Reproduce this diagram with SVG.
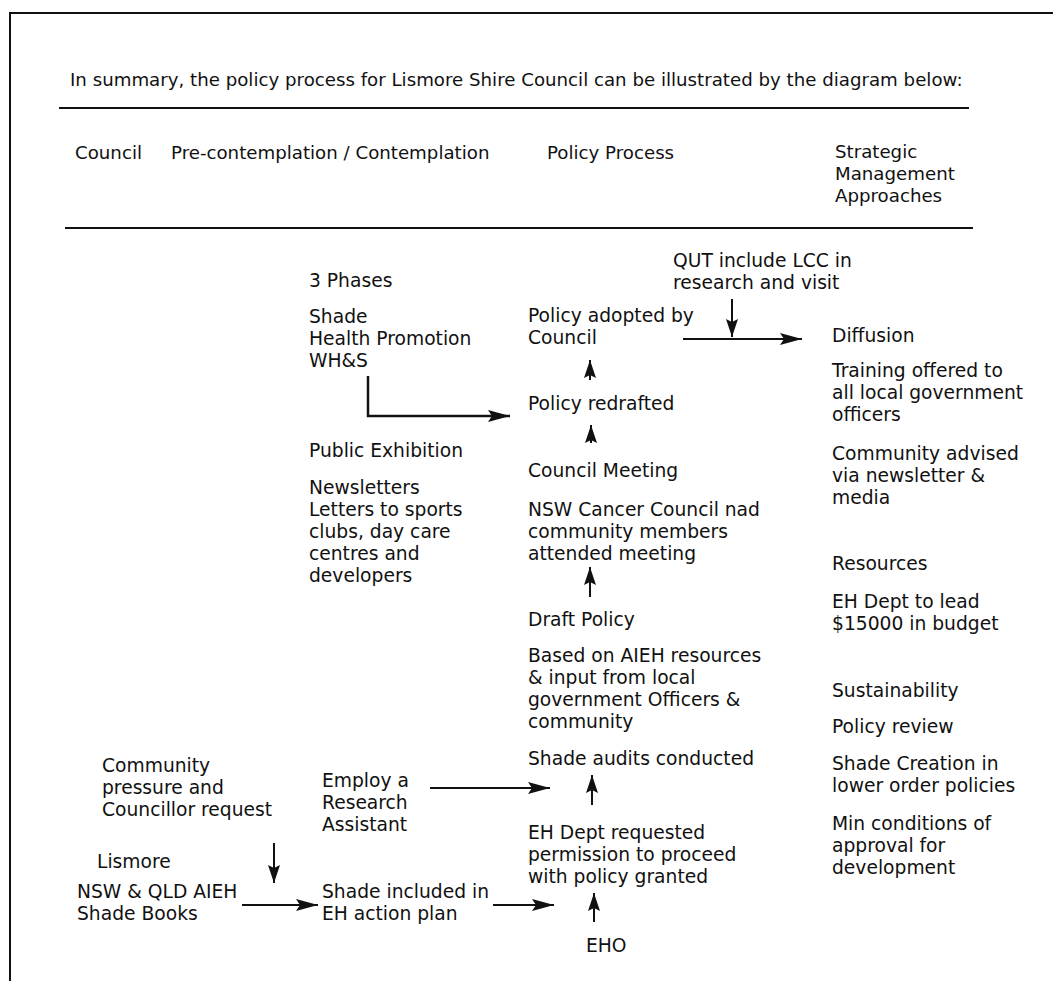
<svg xmlns="http://www.w3.org/2000/svg" width="1053" height="981" viewBox="0 0 1053 981">
<style>
text{font-family:"DejaVu Sans","Verdana",sans-serif;font-size:18.7px;fill:#111}
.h{font-size:18.2px}
.rule{stroke:#111;stroke-width:2;fill:none}
.c{stroke:#111;stroke-width:2;fill:none}
.e{stroke:#111;stroke-width:2.5;fill:none}
</style>
<defs>
<marker id="ah" viewBox="0 0 22 12" refX="22" refY="6" markerWidth="22" markerHeight="12" markerUnits="userSpaceOnUse" orient="auto">
<path d="M0,0 L22,6 L0,12 L4,6 z" fill="#111"/>
</marker>
<marker id="as" viewBox="0 0 18 12" refX="18" refY="6" markerWidth="18" markerHeight="12" markerUnits="userSpaceOnUse" orient="auto">
<path d="M0,0 L18,6 L0,12 L3,6 z" fill="#111"/>
</marker>
</defs>
<rect width="1053" height="981" fill="#fff"/>
<path class="rule" d="M10,990 V13 H1060"/>
<g id="header">
<text class="h" x="70" y="86">In summary, the policy process for Lismore Shire Council can be illustrated by the diagram below:</text>
<line class="rule" x1="59" y1="108" x2="969" y2="108"/>
<text class="h" x="75" y="159">Council</text>
<text class="h" x="171" y="159">Pre-contemplation / Contemplation</text>
<text class="h" x="547" y="159">Policy Process</text>
<text class="h" x="835" y="158">Strategic</text>
<text class="h" x="835" y="180">Management</text>
<text class="h" x="835" y="202">Approaches</text>
<line class="rule" x1="65" y1="228" x2="973" y2="228"/>
</g>
<g id="phases">
<text x="309" y="287">3 Phases</text>
<text x="309" y="323">Shade</text>
<text x="309" y="345">Health Promotion</text>
<text x="309" y="367">WH&amp;S</text>
</g>
<g id="public-exhibition">
<text x="309" y="457">Public Exhibition</text>
<text x="309" y="494">Newsletters</text>
<text x="309" y="516">Letters to sports</text>
<text x="309" y="538">clubs, day care</text>
<text x="309" y="560">centres and</text>
<text x="309" y="582">developers</text>
</g>
<g id="policy-adopted">
<text x="528" y="322">Policy adopted by</text>
<text x="528" y="344">Council</text>
</g>
<g id="policy-redrafted"><text x="528" y="410">Policy redrafted</text></g>
<g id="council-meeting">
<text x="528" y="477">Council Meeting</text>
<text x="528" y="516">NSW Cancer Council nad</text>
<text x="528" y="538">community members</text>
<text x="528" y="560">attended meeting</text>
</g>
<g id="draft-policy">
<text x="528" y="626">Draft Policy</text>
<text x="528" y="662">Based on AIEH resources</text>
<text x="528" y="684">&amp; input from local</text>
<text x="528" y="706">government Officers &amp;</text>
<text x="528" y="728">community</text>
</g>
<g id="shade-audits"><text x="528" y="765">Shade audits conducted</text></g>
<g id="eh-dept">
<text x="528" y="839">EH Dept requested</text>
<text x="528" y="861">permission to proceed</text>
<text x="528" y="883">with policy granted</text>
</g>
<g id="eho"><text x="586" y="952">EHO</text></g>
<g id="community-pressure">
<text x="102" y="772">Community</text>
<text x="102" y="794">pressure and</text>
<text x="102" y="816">Councillor request</text>
</g>
<g id="employ">
<text x="322" y="787">Employ a</text>
<text x="322" y="809">Research</text>
<text x="322" y="831">Assistant</text>
</g>
<g id="lismore">
<text x="97" y="868">Lismore</text>
<text x="77" y="898">NSW &amp; QLD AIEH</text>
<text x="77" y="920">Shade Books</text>
</g>
<g id="shade-included">
<text x="322" y="898">Shade included in</text>
<text x="322" y="920">EH action plan</text>
</g>
<g id="qut">
<text x="673" y="267">QUT include LCC in</text>
<text x="673" y="289">research and visit</text>
</g>
<g id="diffusion">
<text x="832" y="342">Diffusion</text>
<text x="832" y="377">Training offered to</text>
<text x="832" y="399">all local government</text>
<text x="832" y="421">officers</text>
<text x="832" y="460">Community advised</text>
<text x="832" y="482">via newsletter &amp;</text>
<text x="832" y="504">media</text>
</g>
<g id="resources">
<text x="832" y="570">Resources</text>
<text x="832" y="608">EH Dept to lead</text>
<text x="832" y="630">$15000 in budget</text>
</g>
<g id="sustainability">
<text x="832" y="697">Sustainability</text>
<text x="832" y="733">Policy review</text>
<text x="832" y="770">Shade Creation in</text>
<text x="832" y="792">lower order policies</text>
<text x="832" y="830">Min conditions of</text>
<text x="832" y="852">approval for</text>
<text x="832" y="874">development</text>
</g>
<g id="connectors">
<path class="e" d="M368,376 V416 H510" marker-end="url(#ah)"/>
<path class="c" d="M683,339 H802" marker-end="url(#ah)"/>
<path class="c" d="M732,299 V337" marker-end="url(#as)"/>
<path class="c" d="M590,380 V360" marker-end="url(#as)"/>
<path class="c" d="M591,443 V425" marker-end="url(#as)"/>
<path class="c" d="M590,597 V567" marker-end="url(#as)"/>
<path class="c" d="M592,805 V775" marker-end="url(#as)"/>
<path class="c" d="M594,922 V893" marker-end="url(#as)"/>
<path class="c" d="M430,788 H550" marker-end="url(#ah)"/>
<path class="c" d="M493,905 H554" marker-end="url(#ah)"/>
<path class="c" d="M242,905 H318" marker-end="url(#ah)"/>
<path class="c" d="M274,843 V883" marker-end="url(#as)"/>
</g>
</svg>
